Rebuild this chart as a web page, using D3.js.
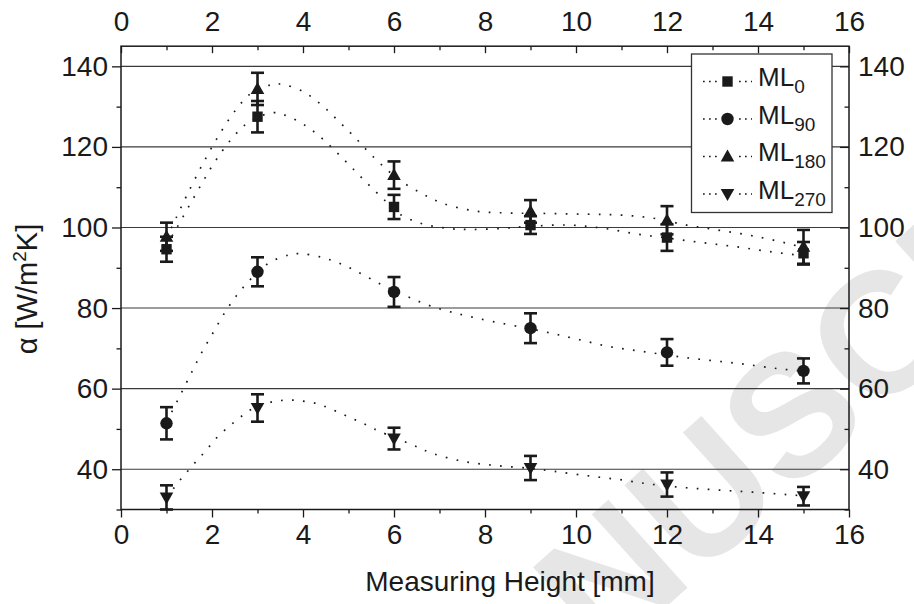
<!DOCTYPE html>
<html>
<head>
<meta charset="utf-8">
<script src="https://cdn.jsdelivr.net/npm/d3@7"></script>
<style>
  html, body { margin: 0; padding: 0; background: #fff; }
  svg { display: block; }
  text { font-family: "Liberation Sans", Arial, Helvetica, sans-serif; fill: #1a1a1a; }
</style>
</head>
<body>
<svg id="chart" width="914" height="604"></svg>
<script>
// ---------- data ----------
const heights = [1, 3, 6, 9, 12, 15];

const ml0     = [94.6, 127.5, 105.1, 100.6, 97.5, 93.6];
const ml0Err  = [3.1, 3.9, 3.0, 2.2, 3.3, 2.8];
const ml90    = [51.4, 89.0, 84.0, 75.0, 69.0, 64.4];
const ml90Err = [4.0, 3.6, 3.7, 3.7, 3.3, 3.1];
const ml180   = [97.7, 134.4, 113.0, 104.0, 101.8, 95.2];
const ml180Err= [3.5, 4.0, 3.4, 2.8, 3.5, 4.2];
const ml270   = [33.0, 55.2, 47.6, 40.3, 36.2, 33.3];
const ml270Err= [3.0, 3.4, 2.7, 3.0, 3.0, 2.3];

// fitted dotted curves: [height, alpha]
const ml0Fit = [[1,95.5],[1.22,99.8],[1.7,109.4],[2.08,116.6],[2.53,123.3],[2.87,126.6],[3.36,128.5],[3.6,127.9],[4.04,125.4],[4.43,122],[4.78,118.2],[5.13,114.2],[5.47,110.3],[5.82,106.5],[6.13,103.3],[6.6,101],[7.16,99.8],[7.67,99.5],[8.4,99.8],[9,100.3],[9.87,100.6],[10.6,99.8],[11.33,98.4],[12.07,97.3],[12.8,96.2],[13.53,95.2],[14.26,94],[15,93]];
const ml180Fit = [[1,97.4],[1.22,102.6],[1.43,107.6],[1.76,115],[2.12,122.3],[2.53,129.3],[2.87,133.4],[3.33,135.5],[3.57,135.5],[4.02,133.6],[4.42,130.3],[4.78,126.4],[5.13,122.5],[5.46,118.5],[5.82,114.6],[6.13,111.7],[6.6,108.5],[7.07,106],[7.78,104.1],[8.51,103.6],[9.2,103.5],[10.23,103.3],[10.97,103.1],[11.7,102.3],[12.43,100.6],[13.16,99.3],[13.9,97.9],[14.63,96.1],[15,95]];
const ml90Fit = [[1,51.8],[1.11,54.1],[1.33,59],[1.55,64],[1.77,68.9],[2.02,73.8],[2.26,78.5],[2.54,83.1],[2.87,87.4],[3.24,91.1],[3.69,93.2],[3.93,93.5],[4.41,92.6],[4.89,90.7],[5.33,88.2],[5.75,85.7],[6.13,83.7],[6.86,80.3],[7.82,77.5],[9.28,74.2],[10.02,72.3],[10.75,70.4],[11.48,69.2],[12.21,68],[12.95,67],[13.68,66.1],[14.41,65],[15,64.3]];
const ml270Fit = [[1,33],[1.16,35.3],[1.32,37.6],[1.48,39.7],[1.64,41.8],[1.8,43.8],[1.96,45.9],[2.12,48],[2.31,50],[2.49,51.7],[2.69,53.5],[2.87,54.9],[3.35,56.8],[3.6,57.1],[3.85,57.1],[4.1,56.7],[4.34,56.2],[4.56,55.2],[4.79,54.1],[5.02,52.9],[5.24,51.8],[5.46,50.6],[5.68,49.4],[6.35,46.3],[6.83,44],[7.54,41.9],[8.26,40.9],[9,40.2],[9.5,39.5],[10.24,38.4],[10.97,37.4],[11.7,36.2],[12.43,35.4],[13.16,34.8],[13.9,34.3],[14.63,33.7],[15,33.4]];

const xMajor = [0, 2, 4, 6, 8, 10, 12, 14, 16];
const xMinor = [1, 3, 5, 7, 9, 11, 13, 15];
const yMajor = [40, 60, 80, 100, 120, 140];
const yMinor = [30, 50, 70, 90, 110, 130];

const seriesNames = ["0", "90", "180", "270"];
const seriesSymbols = ["square", "circle", "triangleUp", "triangleDown"];

// ---------- layout ----------
const svg = d3.select("#chart");
const L = 121, R = 849, T = 46.2, B = 509.5;
const x = d3.scaleLinear().domain([0, 16]).range([L, R]);
const y = d3.scaleLinear().domain([30, 145]).range([B, T]);
const ink = "#1a1a1a";

// watermark (behind everything)
svg.append("text")
  .attr("transform", "translate(405,842) rotate(-42)")
  .attr("font-size", 172)
  .attr("font-weight", "bold")
  .style("fill", "#e6e6e6")
  .text("MANUSCRIPT");

// grid lines
svg.append("g").selectAll("line").data(yMajor).join("line")
  .attr("x1", L).attr("x2", R)
  .attr("y1", d => y(d)).attr("y2", d => y(d))
  .attr("stroke", "#3a3a3a").attr("stroke-width", 1.1);

// fitted dotted curves
const line = d3.line().x(d => x(d[0])).y(d => y(d[1])).curve(d3.curveCatmullRom.alpha(0.5));
[ml0Fit, ml90Fit, ml180Fit, ml270Fit].forEach(f => {
  svg.append("path").attr("d", line(f))
    .attr("fill", "none").attr("stroke", ink)
    .attr("stroke-width", 1.7).attr("stroke-dasharray", "1.7,9.3");
});

// symbols
function drawSymbol(g, type, cx, cy) {
  if (type === "square") {
    g.append("rect").attr("x", cx - 5.2).attr("y", cy - 5.2).attr("width", 10.4).attr("height", 10.4).attr("fill", ink);
  } else if (type === "circle") {
    g.append("circle").attr("cx", cx).attr("cy", cy).attr("r", 6.2).attr("fill", ink);
  } else if (type === "triangleUp") {
    g.append("path").attr("d", `M${cx},${cy-7}L${cx+6.8},${cy+5}L${cx-6.8},${cy+5}Z`).attr("fill", ink);
  } else {
    g.append("path").attr("d", `M${cx},${cy+7}L${cx+6.8},${cy-5}L${cx-6.8},${cy-5}Z`).attr("fill", ink);
  }
}

const allVals = [ml0, ml90, ml180, ml270];
const allErr = [ml0Err, ml90Err, ml180Err, ml270Err];
const gErr = svg.append("g");
const gMark = svg.append("g");
allVals.forEach((vals, s) => {
  vals.forEach((v, i) => {
    const cx = x(heights[i]);
    const e = allErr[s][i];
    const y1 = y(Math.max(v - e, 30)), y2 = y(v + e);
    gErr.append("line").attr("x1", cx).attr("x2", cx).attr("y1", y1).attr("y2", y2)
      .attr("stroke", ink).attr("stroke-width", 2.6);
    [v - e, v + e].forEach(c => {
      if (c >= 30) gErr.append("line").attr("x1", cx - 6.5).attr("x2", cx + 6.5)
        .attr("y1", y(c)).attr("y2", y(c)).attr("stroke", ink).attr("stroke-width", 2.6);
    });
    drawSymbol(gMark, seriesSymbols[s], cx, y(v));
  });
});

// ---------- axes ----------
function styleAxis(g) {
  g.select(".domain").remove();
  g.selectAll(".tick line").attr("stroke", ink).attr("stroke-width", 1.3);
  g.selectAll(".tick text").attr("font-size", 28).style("fill", ink);
}
// bottom
svg.append("g").attr("transform", `translate(0,${B})`)
  .call(d3.axisBottom(x).tickValues(xMajor).tickSize(8).tickPadding(7).tickFormat(d3.format("d")))
  .call(styleAxis);
svg.append("g").attr("transform", `translate(0,${B})`)
  .call(d3.axisBottom(x).tickValues(xMinor).tickSize(4).tickFormat(""))
  .call(styleAxis);
// top
svg.append("g").attr("transform", `translate(0,${T})`)
  .call(d3.axisTop(x).tickValues(xMajor).tickSize(-7).tickPadding(15).tickFormat(d3.format("d")))
  .call(styleAxis);
svg.append("g").attr("transform", `translate(0,${T})`)
  .call(d3.axisTop(x).tickValues(xMinor).tickSize(-4).tickFormat(""))
  .call(styleAxis);
// left
svg.append("g").attr("transform", `translate(${L},0)`)
  .call(d3.axisLeft(y).tickValues(yMajor).tickSize(9).tickPadding(4).tickFormat(d3.format("d")))
  .call(styleAxis);
svg.append("g").attr("transform", `translate(${L},0)`)
  .call(d3.axisLeft(y).tickValues(yMinor).tickSize(4.5).tickFormat(""))
  .call(styleAxis);
// right
svg.append("g").attr("transform", `translate(${R},0)`)
  .call(d3.axisRight(y).tickValues(yMajor).tickSize(-9).tickPadding(9).tickFormat(d3.format("d")))
  .call(styleAxis);
svg.append("g").attr("transform", `translate(${R},0)`)
  .call(d3.axisRight(y).tickValues(yMinor).tickSize(-4.5).tickFormat(""))
  .call(styleAxis);

// frame
svg.append("rect").attr("x", L).attr("y", T).attr("width", R - L).attr("height", B - T)
  .attr("fill", "none").attr("stroke", ink).attr("stroke-width", 1.5);

// axis titles
svg.append("text").attr("x", 510).attr("y", 591).attr("text-anchor", "middle")
  .attr("font-size", 28).text("Measuring Height [mm]");
const yt = svg.append("text").attr("transform", "translate(37,289) rotate(-90)")
  .attr("text-anchor", "middle").attr("font-size", 29);
yt.append("tspan").text("\u03b1 [W/m");
yt.append("tspan").attr("font-size", 19).attr("dy", -11).text("2");
yt.append("tspan").attr("dy", 11).text("K]");

// ---------- legend ----------
const lg = svg.append("g");
lg.append("rect").attr("x", 691.5).attr("y", 54).attr("width", 140.5).attr("height", 158.5)
  .attr("fill", "#fff").attr("stroke", "#333").attr("stroke-width", 1.3);
const rowY = [81.5, 119, 156.5, 194];
seriesNames.forEach((n, i) => {
  const ry = rowY[i];
  lg.append("line").attr("x1", 703).attr("x2", 752).attr("y1", ry).attr("y2", ry)
    .attr("stroke", ink).attr("stroke-width", 1.7).attr("stroke-dasharray", "1.7,4.3");
  lg.append("rect").attr("x", 719).attr("y", ry - 8).attr("width", 17).attr("height", 16).attr("fill", "#fff");
  drawSymbol(lg, seriesSymbols[i], 727.5, ry);
  const t = lg.append("text").attr("x", 758).attr("y", ry + 4.5).attr("font-size", 26);
  t.append("tspan").text("ML");
  t.append("tspan").attr("font-size", 19).attr("dy", 7).text(n);
});
</script>
</body>
</html>
